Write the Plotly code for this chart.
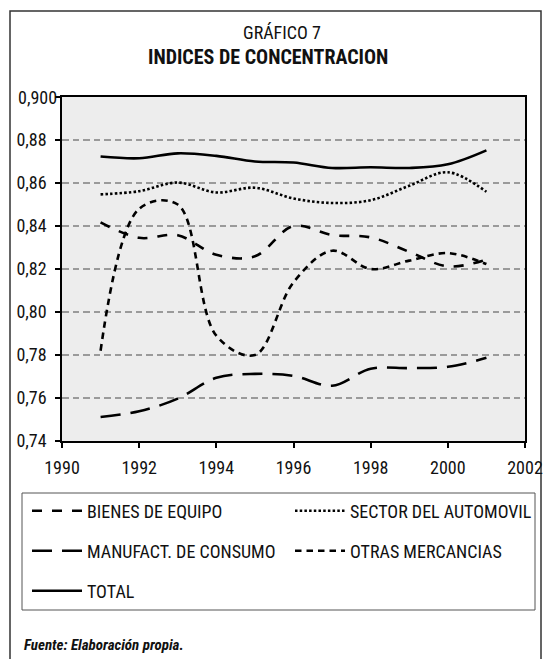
import plotly.graph_objects as go

# ---------------- data ----------------
years = [1991, 1992, 1993, 1994, 1995, 1996, 1997, 1998, 1999, 2000, 2001]
bienes_equipo = [0.8417, 0.8345, 0.8357, 0.8266, 0.8259, 0.8400, 0.8358, 0.8347, 0.8280, 0.8212, 0.8243]
sector_automovil = [0.8547, 0.8562, 0.8602, 0.8556, 0.8578, 0.8528, 0.8507, 0.8520, 0.8587, 0.8650, 0.8559]
manufact_consumo = [0.7512, 0.7538, 0.7597, 0.7694, 0.7712, 0.7703, 0.7657, 0.7736, 0.7739, 0.7745, 0.7787]
otras_mercancias = [0.7820, 0.8480, 0.8500, 0.7890, 0.7800, 0.8138, 0.8285, 0.8200, 0.8239, 0.8274, 0.8223]
total = [0.8723, 0.8715, 0.8738, 0.8726, 0.8700, 0.8695, 0.8670, 0.8673, 0.8670, 0.8687, 0.8752]

x_ticks = [1990, 1992, 1994, 1996, 1998, 2000, 2002]
y_ticks = [0.74, 0.76, 0.78, 0.80, 0.82, 0.84, 0.86, 0.88, 0.90]
y_ticktext = ["0,74", "0,76", "0,78", "0,80", "0,82", "0,84", "0,86", "0,88", ""]
y_top_label = "0,900"

# ---------------- layout geometry (px) ----------------
W, H = 548, 659
L, R, T, B = 62, 525, 97, 441  # plot area edges in px

FONT = "Liberation Sans Narrow, Arial Narrow, Roboto Condensed, Liberation Sans, sans-serif"


def px_x(px):
    return (px - L) / (R - L)


def px_y(py):
    return (B - py) / (B - T)


fig = go.Figure()

# name, values, dash, legend id, legend position (px: x of item, y of row centre)
series = [
    ("BIENES DE EQUIPO", bienes_equipo, "10px,10px", "legend", (27, 511)),
    ("SECTOR DEL AUTOMOVIL", sector_automovil, "2.5px,2.2px", "legend2", (290, 511)),
    ("MANUFACT. DE CONSUMO", manufact_consumo, "20px,10px", "legend3", (27, 551)),
    ("OTRAS MERCANCIAS", otras_mercancias, "6.5px,5px", "legend4", (290, 551)),
    ("TOTAL", total, "solid", "legend5", (27, 591)),
]

legend_layout = {}
for name, vals, dash, leg, (lx, ly) in series:
    fig.add_trace(go.Scatter(
        x=years, y=vals, name=name, mode="lines",
        line=dict(color="black", width=2.6, dash=dash, shape="spline", smoothing=1.0),
        legend=leg, showlegend=True,
    ))
    legend_layout[leg] = dict(
        x=px_x(lx), y=px_y(ly),
        orientation="h", xanchor="left", yanchor="middle",
        bgcolor="rgba(0,0,0,0)", borderwidth=0,
        font=dict(family=FONT, size=18, color="#111"),
        itemwidth=50,
    )

fig.update_layout(
    width=W, height=H,
    showlegend=True,
    margin=dict(l=L, r=W - R, t=T, b=H - B, pad=0, autoexpand=False),
    paper_bgcolor="white",
    plot_bgcolor="#EDEDED",
    font=dict(family=FONT, size=18, color="#111"),
    **legend_layout,
    xaxis=dict(
        range=[1990, 2002], tickvals=x_ticks, ticktext=[str(v) for v in x_ticks],
        showgrid=False, zeroline=False, automargin=False,
        showline=True, linecolor="black", linewidth=1.5, mirror=True,
        ticks="outside", ticklen=5, tickcolor="black", tickwidth=1.5,
        ticklabelstandoff=5,
        tickfont=dict(family=FONT, size=18, color="#111"),
    ),
    yaxis=dict(
        range=[0.74, 0.90], tickvals=y_ticks, ticktext=y_ticktext,
        showgrid=True, gridcolor="#9A9A9A", gridwidth=1.5, griddash="6.5px,4px",
        zeroline=False, automargin=False,
        showline=True, linecolor="black", linewidth=1.5, mirror=True,
        ticks="outside", ticklen=5, tickcolor="black", tickwidth=1.5,
        ticklabelstandoff=5,
        tickfont=dict(family=FONT, size=18, color="#111"),
    ),
    shapes=[
        # outer frame
        dict(type="rect", xref="paper", yref="paper",
             x0=px_x(10), x1=px_x(541), y0=px_y(672), y1=px_y(11),
             line=dict(color="#333", width=1.5), fillcolor="rgba(0,0,0,0)", layer="below"),
        # legend box
        dict(type="rect", xref="paper", yref="paper",
             x0=px_x(22), x1=px_x(535), y0=px_y(610), y1=px_y(493),
             line=dict(color="#555", width=1), fillcolor="rgba(0,0,0,0)"),
    ],
    annotations=[
        # top y tick label (sits slightly further right in the original)
        dict(text=y_top_label, xref="paper", yref="y", x=px_x(59), y=y_ticks[-1],
             xanchor="right", yanchor="middle", showarrow=False,
             font=dict(family=FONT, size=18, color="#111")),
        dict(text="GRÁFICO 7", xref="paper", yref="paper", x=px_x(282), y=px_y(32),
             xanchor="center", yanchor="middle", showarrow=False,
             font=dict(family=FONT, size=18, color="#111")),
        dict(text="<b>INDICES DE CONCENTRACION</b>", xref="paper", yref="paper",
             x=px_x(268), y=px_y(57), xanchor="center", yanchor="middle", showarrow=False,
             font=dict(family=FONT, size=20, color="#111")),
        dict(text="<b><i>Fuente: Elaboración propia.</i></b>", xref="paper", yref="paper",
             x=px_x(22), y=px_y(645), xanchor="left", yanchor="middle", showarrow=False,
             font=dict(family=FONT, size=15, color="#111")),
    ],
)

fig.write_html(
    "out.html",
    config={"displayModeBar": False},
    post_script="document.body.style.margin='0';document.body.style.overflow='hidden';",
)
